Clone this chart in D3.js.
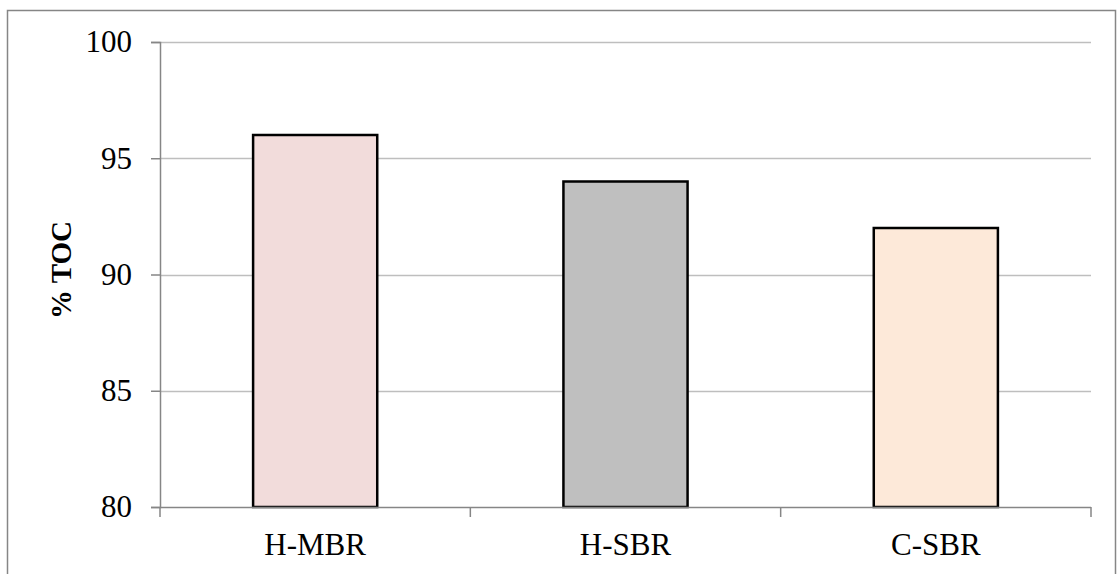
<!DOCTYPE html>
<html>
<head>
<meta charset="utf-8">
<script src="https://cdn.jsdelivr.net/npm/d3@7"></script>
<style>
  body { margin: 0; background: #fff; }
  text { font-family: "Liberation Serif", "Times New Roman", serif; }
</style>
</head>
<body>
<div id="vis"></div>
<script>
const width = 1118;
const height = 574;

const categories = ['H-MBR', 'H-SBR', 'C-SBR'];
const values = [96, 94, 92];
const barColors = ['#F2DCDB', '#BFBFBF', '#FDE9D9'];
const yTicks = [80, 85, 90, 95, 100];
const yLabel = '% TOC';

const plot = { left: 160, right: 1091, top: 42, bottom: 507 };

const svg = d3.select('#vis').append('svg')
  .attr('width', width)
  .attr('height', height);

// outer chart frame
svg.append('rect')
  .attr('x', 7.5)
  .attr('y', 10.5)
  .attr('width', 1108)
  .attr('height', 580)
  .attr('fill', 'none')
  .attr('stroke', '#868686')
  .attr('stroke-width', 1.5);

const x = d3.scaleBand()
  .domain(categories)
  .range([plot.left, plot.right])
  .paddingInner(0.6)
  .paddingOuter(0.3);

const xTicksScale = d3.scaleBand()
  .domain(categories)
  .range([plot.left, plot.right]);

const y = d3.scaleLinear()
  .domain([80, 100])
  .range([plot.bottom, plot.top]);

// gridlines
svg.append('g')
  .selectAll('line')
  .data(yTicks.filter(d => d !== 80))
  .join('line')
  .attr('x1', plot.left)
  .attr('x2', plot.right)
  .attr('y1', d => Math.round(y(d)) + 0.5)
  .attr('y2', d => Math.round(y(d)) + 0.5)
  .attr('stroke', '#BEBEBE')
  .attr('stroke-width', 1.5);

// y axis
const yAxis = svg.append('g')
  .attr('transform', `translate(${plot.left},0)`)
  .call(d3.axisLeft(y).tickValues(yTicks).tickSize(9).tickPadding(19));
yAxis.select('.domain').attr('stroke', '#868686').attr('stroke-width', 1.5);
yAxis.selectAll('.tick line').attr('stroke', '#868686').attr('stroke-width', 1.5);
yAxis.selectAll('.tick text')
  .attr('font-family', '"Liberation Serif", serif')
  .attr('font-size', 31)
  .attr('fill', '#000');

// bars
svg.append('g')
  .selectAll('rect')
  .data(values)
  .join('rect')
  .attr('x', (d, i) => x(categories[i]))
  .attr('y', d => y(d))
  .attr('width', x.bandwidth())
  .attr('height', d => y(80) - y(d))
  .attr('fill', (d, i) => barColors[i])
  .attr('stroke', '#000')
  .attr('stroke-width', 2.5);

// x axis line and category boundary ticks
svg.append('line')
  .attr('x1', plot.left)
  .attr('x2', plot.right)
  .attr('y1', plot.bottom + 0.5)
  .attr('y2', plot.bottom + 0.5)
  .attr('stroke', '#868686')
  .attr('stroke-width', 1.5);

const boundaries = categories.map(c => xTicksScale(c)).concat([plot.right]);
svg.append('g')
  .selectAll('line')
  .data(boundaries)
  .join('line')
  .attr('x1', d => d)
  .attr('x2', d => d)
  .attr('y1', plot.bottom)
  .attr('y2', plot.bottom + 10)
  .attr('stroke', '#868686')
  .attr('stroke-width', 1.5);

// category labels
svg.append('g')
  .selectAll('text')
  .data(categories)
  .join('text')
  .attr('x', d => xTicksScale(d) + xTicksScale.bandwidth() / 2)
  .attr('y', 555)
  .attr('text-anchor', 'middle')
  .attr('font-size', 31)
  .attr('fill', '#000')
  .text(d => d);

// y axis title
svg.append('text')
  .attr('transform', `translate(71,${270}) rotate(-90)`)
  .attr('text-anchor', 'middle')
  .attr('font-size', 29)
  .attr('font-weight', 'bold')
  .attr('fill', '#000')
  .text(yLabel);
</script>
</body>
</html>
